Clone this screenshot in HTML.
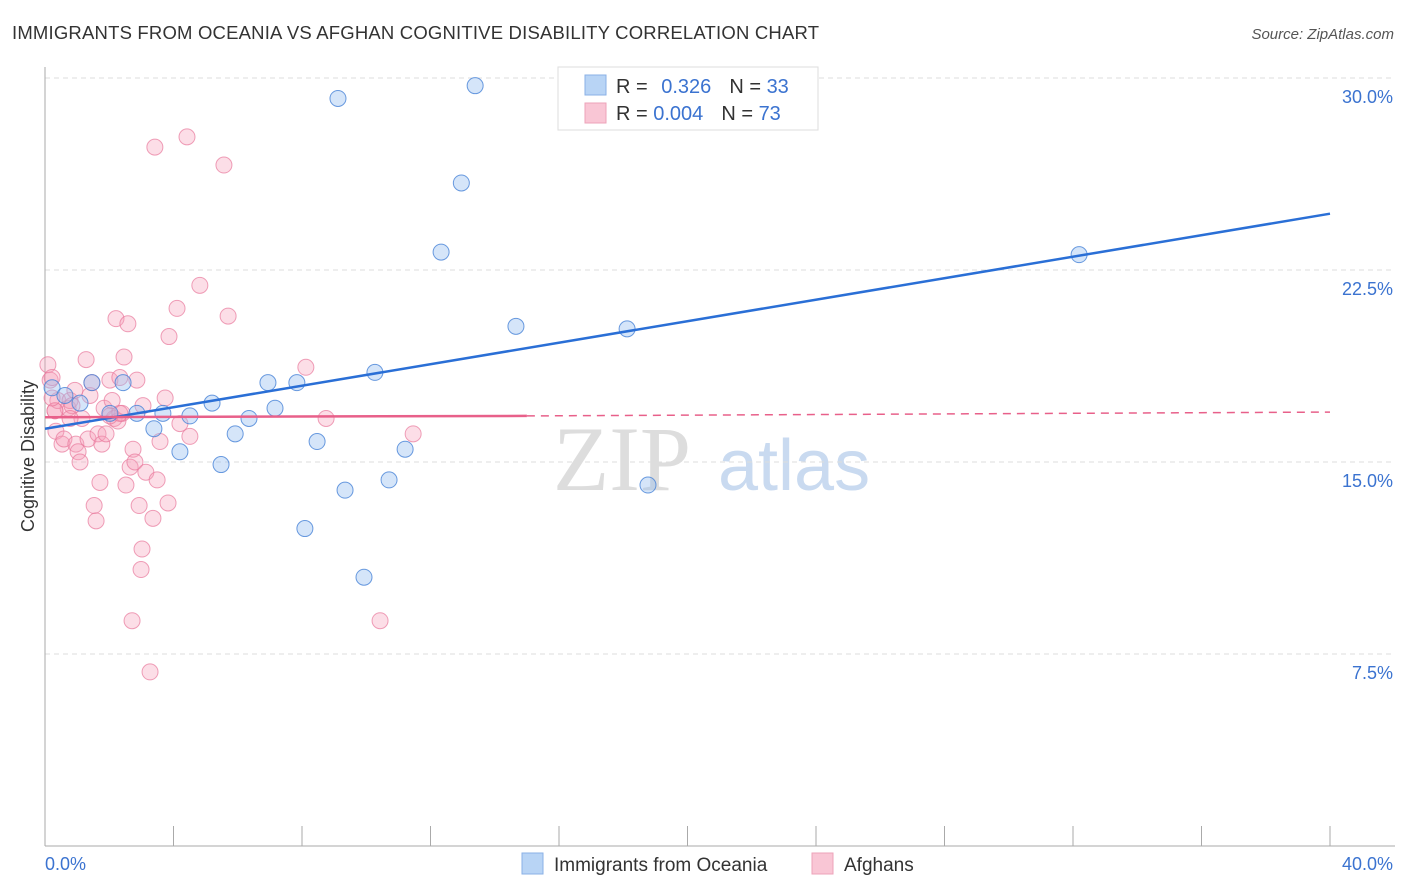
<!DOCTYPE html>
<html><head><meta charset="utf-8"><style>
body{margin:0;background:#fff;font-family:"Liberation Sans",sans-serif;}
svg{display:block}
</style></head><body>
<svg id="chart" width="1406" height="892">
<text x="12" y="39" font-size="18.5" textLength="807" fill="#333">IMMIGRANTS FROM OCEANIA VS AFGHAN COGNITIVE DISABILITY CORRELATION CHART</text>
<text x="1394" y="39" font-size="15" fill="#555" font-style="italic" text-anchor="end">Source: ZipAtlas.com</text>
<text transform="translate(34,456) rotate(-90)" font-size="18" fill="#333" text-anchor="middle">Cognitive Disability</text>
<g><text x="553" y="490" font-size="92" font-family="Liberation Serif,serif" fill="#ddd">ZIP</text><text x="718" y="490" font-size="72" fill="#c9daf0">atlas</text></g>
<g id="grid"></g><g id="axes"></g><g id="pts"></g><g id="lines"></g>
<g>
<rect x="558" y="67" width="260" height="63" fill="#fff" stroke="#ddd"/>
<rect x="585" y="75" width="21" height="20" fill="#b8d4f5" stroke="#8ab0e6"/>
<rect x="585" y="103" width="21" height="20" fill="#f9c6d5" stroke="#eda3b9"/>
<text x="616" y="93" font-size="20" fill="#333">R = <tspan fill="#3b73d0" dx="8">0.326</tspan><tspan dx="18" fill="#333">N = </tspan><tspan fill="#3b73d0">33</tspan></text>
<text x="616" y="120" font-size="20" fill="#333">R = <tspan fill="#3b73d0">0.004</tspan><tspan dx="18" fill="#333">N = </tspan><tspan fill="#3b73d0">73</tspan></text>
</g>
<g>
<rect x="522" y="853" width="21" height="21" fill="#b8d4f5" stroke="#8ab0e6"/>
<text x="554" y="871" font-size="19" fill="#333">Immigrants from Oceania</text>
<rect x="812" y="853" width="21" height="21" fill="#f9c6d5" stroke="#eda3b9"/>
<text x="844" y="871" font-size="19" fill="#333">Afghans</text>
</g>
</svg>
<script>
const yTicks=[7.5,15,22.5,30];
const yTickLabels=["7.5%","15.0%","22.5%","30.0%"];
const xTicks=[0,4,8,12,16,20,24,28,32,36,40];
const blueX=[0.22,0.62,1.09,1.46,2.43,2.02,2.86,3.39,3.67,4.2,4.51,5.2,5.48,5.92,6.35,6.94,7.16,7.84,8.47,9.12,9.34,9.93,10.27,10.71,11.21,12.33,12.96,13.39,14.66,18.12,18.77,32.19,8.09];
const blueY=[17.9,17.6,17.3,18.1,18.1,16.9,16.9,16.3,16.9,15.4,16.8,17.3,14.9,16.1,16.7,18.1,17.1,18.1,15.8,29.2,13.9,10.5,18.5,14.3,15.5,23.2,25.9,29.7,20.3,20.2,14.1,23.1,12.4];
const pinkX=[0.09,0.16,0.22,0.31,0.34,0.40,0.53,0.59,0.72,0.78,0.84,0.93,0.96,1.03,1.09,1.15,1.28,1.34,1.40,1.46,1.53,1.59,1.65,1.71,1.77,1.84,1.90,2.02,2.09,2.15,2.21,2.27,2.33,2.40,2.46,2.52,2.58,2.65,2.71,2.74,2.80,2.86,2.93,2.99,3.02,3.05,3.14,3.36,3.42,3.49,3.58,3.74,3.83,3.86,4.11,4.20,4.42,4.51,4.82,5.57,5.70,3.27,8.12,8.75,10.43,11.46,0.31,0.22,0.78,2.02,2.33];
const pinkY=[18.8,18.2,18.3,17.0,16.2,17.4,15.7,15.9,17.1,17.4,17.2,17.8,15.7,15.4,15.0,16.7,19.0,15.9,17.6,18.1,13.3,12.7,16.1,14.2,15.7,17.1,16.1,18.2,17.4,16.7,20.6,16.6,18.3,16.9,19.1,14.1,20.4,14.8,8.8,15.5,15.0,18.2,13.3,10.8,11.6,17.2,14.6,12.8,27.3,14.3,15.8,17.5,13.4,19.9,21.0,16.5,27.7,16.0,21.9,26.6,20.7,6.8,18.7,16.7,8.8,16.1,17.0,17.5,16.7,16.8,16.9];
const blueTrend=[[0,16.3],[40,24.7]];
const pinkTrend=[[0,16.75],[15,16.8],[40,16.95]];
const L=45,R=1330,T=78,B=846;
const sx=v=>L+(R-L)*v/40, sy=v=>B-(B-T)*v/30;
const NS="http://www.w3.org/2000/svg";
function mk(p,tag,a){const e=document.createElementNS(NS,tag);for(const k in a)e.setAttribute(k,a[k]);document.getElementById(p).appendChild(e);return e;}
yTicks.forEach((t,i)=>{
 const g=mk('grid','line',{x1:L,x2:1395,y1:sy(t),y2:sy(t),stroke:'#ddd','stroke-dasharray':'5,4'});
 
 
 const tx=mk('grid','text',{x:1393,y:sy(t)+25,'font-size':18,fill:'#3b73d0','text-anchor':'end'});
 tx.textContent=yTickLabels[i];
 
 
});
let a=mk('axes','line',{x1:L,x2:L,y1:67,y2:B,stroke:'#aaa'});


a=mk('axes','line',{x1:L,x2:1395,y1:B,y2:B,stroke:'#aaa'});


xTicks.slice(1).forEach(t=>{const e=mk('axes','line',{x1:sx(t),x2:sx(t),y1:826,y2:B,stroke:'#aaa'});
 
 });
let t0=mk('axes','text',{x:45,y:870,'font-size':18,fill:'#3b73d0'});t0.textContent='0.0%';


t0=mk('axes','text',{x:1393,y:870,'font-size':18,fill:'#3b73d0','text-anchor':'end'});t0.textContent='40.0%';


pinkX.forEach((x,i)=>{const c=mk('pts','circle',{cx:sx(x),cy:sy(pinkY[i]),r:8,fill:'rgba(245,160,185,0.35)',stroke:'rgba(232,120,155,0.7)','stroke-width':1});
 
 });
blueX.forEach((x,i)=>{const c=mk('pts','circle',{cx:sx(x),cy:sy(blueY[i]),r:8,fill:'rgba(150,190,240,0.4)',stroke:'rgba(70,130,215,0.8)','stroke-width':1});
 
 });
let ln=mk('lines','line',{x1:sx(blueTrend[0][0]),y1:sy(blueTrend[0][1]),x2:sx(blueTrend[1][0]),y2:sy(blueTrend[1][1]),stroke:'#2a6fd6','stroke-width':2.5});


ln=mk('lines','line',{x1:sx(pinkTrend[0][0]),y1:sy(pinkTrend[0][1]),x2:sx(pinkTrend[1][0]),y2:sy(pinkTrend[1][1]),stroke:'#e8608a','stroke-width':2.5});


ln=mk('lines','line',{x1:sx(pinkTrend[1][0]),y1:sy(pinkTrend[1][1]),x2:sx(pinkTrend[2][0]),y2:sy(pinkTrend[2][1]),stroke:'#e8608a','stroke-width':1.5,'stroke-dasharray':'8,6'});


</script>
</body></html>
